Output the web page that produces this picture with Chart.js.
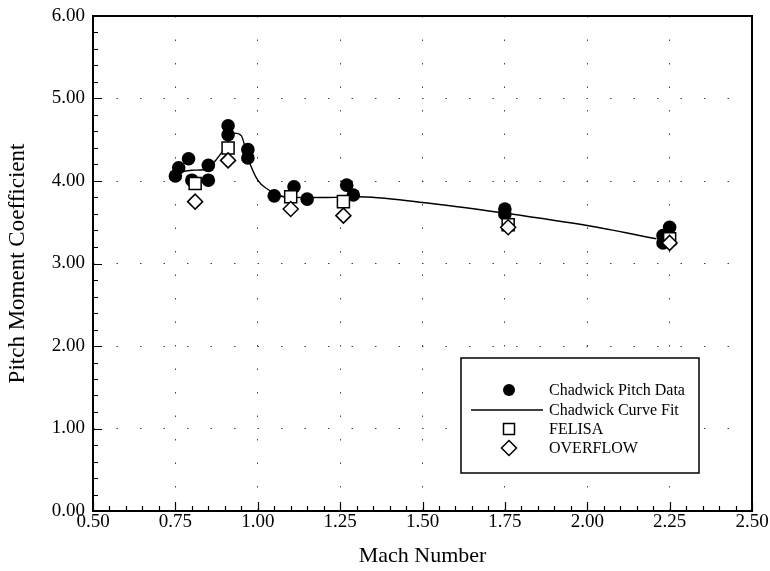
<!DOCTYPE html>
<html>
<head>
<meta charset="utf-8">
<script src="https://cdn.jsdelivr.net/npm/chart.js@4"></script>
<style>
  html, body { margin: 0; padding: 0; background: #fff; }
  #wrap { width: 770px; height: 571px; }
</style>
</head>
<body>
<div id="wrap"><canvas id="myChart" width="770" height="571"></canvas></div>
<script>
// Chadwick pitch data (filled circles)
var chadwickX = [0.75, 0.76, 0.79, 0.80, 0.85, 0.85, 0.91, 0.91, 0.97, 0.97, 1.05, 1.11, 1.15, 1.27, 1.29, 1.75, 1.75, 2.23, 2.23, 2.25];
var chadwickY = [4.06, 4.16, 4.27, 4.01, 4.01, 4.19, 4.67, 4.56, 4.38, 4.28, 3.82, 3.93, 3.78, 3.95, 3.83, 3.66, 3.60, 3.25, 3.34, 3.44];
// Chadwick curve fit
var fitX = [0.75, 0.80, 0.84, 0.87, 0.90, 0.93, 0.95, 0.97, 1.00, 1.03, 1.06, 1.10, 1.20, 1.30, 1.50, 1.75, 2.00, 2.21];
var fitY = [4.10, 4.13, 4.14, 4.24, 4.40, 4.58, 4.55, 4.28, 4.01, 3.90, 3.83, 3.80, 3.80, 3.81, 3.74, 3.61, 3.46, 3.30];
// FELISA (squares)
var felisaX = [0.81, 0.91, 1.10, 1.26, 1.76, 2.25];
var felisaY = [3.97, 4.40, 3.81, 3.75, 3.47, 3.30];
// OVERFLOW (diamonds)
var overflowX = [0.81, 0.91, 1.10, 1.26, 1.76, 2.25];
var overflowY = [3.75, 4.25, 3.66, 3.58, 3.44, 3.25];

var xTicks = [0.50, 0.75, 1.00, 1.25, 1.50, 1.75, 2.00, 2.25, 2.50];
var yTicks = [0, 1, 2, 3, 4, 5, 6];
var legendLabels = ['Chadwick Pitch Data', 'Chadwick Curve Fit', 'FELISA', 'OVERFLOW'];

function pts(xs, ys) {
    return xs.map(function (x, i) { return { x: x, y: ys[i] }; });
}

var serif = "'Liberation Serif', 'Times New Roman', serif";

// frame, inward ticks and the boxed legend
var framePlugin = {
    id: 'frame',
    afterDraw: function (chart) {
        var ctx = chart.ctx;
        var a = chart.chartArea;
        var xs = chart.scales.x, ys = chart.scales.y;
        ctx.save();
        ctx.strokeStyle = '#000';
        ctx.lineWidth = 2;
        ctx.strokeRect(a.left, a.top, a.right - a.left, a.bottom - a.top);

        ctx.lineWidth = 1.2;
        ctx.beginPath();
        for (var i = 0; i <= 40; i++) {
            var v = 0.5 + i * 0.05;
            var px = Math.round(xs.getPixelForValue(v)) + 0.5;
            var len = (i % 5 === 0) ? 9 : 5;
            ctx.moveTo(px, a.bottom);
            ctx.lineTo(px, a.bottom - len);
        }
        for (var j = 0; j <= 30; j++) {
            var yv = j * 0.2;
            var py = Math.round(ys.getPixelForValue(yv)) + 0.5;
            var ylen = (j % 5 === 0) ? 9 : 5;
            ctx.moveTo(a.left, py);
            ctx.lineTo(a.left + ylen, py);
        }
        ctx.stroke();

        // legend box
        var bx = a.right - 291, by = a.bottom - 153, bw = 238, bh = 115;
        ctx.fillStyle = '#fff';
        ctx.fillRect(bx, by, bw, bh);
        ctx.lineWidth = 1.5;
        ctx.strokeRect(bx, by, bw, bh);
        var rows = [by + 32, by + 52, by + 71, by + 90];
        var symX = bx + 48;
        ctx.font = '16px ' + serif;
        ctx.textBaseline = 'middle';
        ctx.textAlign = 'left';
        for (var k = 0; k < legendLabels.length; k++) {
            var ry = rows[k];
            ctx.lineWidth = 1.5;
            ctx.strokeStyle = '#000';
            if (k === 0) {
                ctx.fillStyle = '#000';
                ctx.beginPath();
                ctx.arc(symX, ry, 6, 0, Math.PI * 2);
                ctx.fill();
            } else if (k === 1) {
                ctx.lineWidth = 1.3;
                ctx.beginPath();
                ctx.moveTo(bx + 10, ry);
                ctx.lineTo(bx + 82, ry);
                ctx.stroke();
            } else if (k === 2) {
                ctx.fillStyle = '#fff';
                ctx.fillRect(symX - 5.5, ry - 5.5, 11, 11);
                ctx.strokeRect(symX - 5.5, ry - 5.5, 11, 11);
            } else {
                ctx.fillStyle = '#fff';
                ctx.beginPath();
                ctx.moveTo(symX, ry - 7.5);
                ctx.lineTo(symX + 7.5, ry);
                ctx.lineTo(symX, ry + 7.5);
                ctx.lineTo(symX - 7.5, ry);
                ctx.closePath();
                ctx.fill();
                ctx.stroke();
            }
            ctx.fillStyle = '#000';
            ctx.fillText(legendLabels[k], bx + 88, ry + 1);
        }
        ctx.restore();
    }
};

var ctx = document.getElementById('myChart').getContext('2d');
var myChart = new Chart(ctx, {
    type: 'scatter',
    data: {
        datasets: [
            {
                label: 'Chadwick Curve Fit',
                data: pts(fitX, fitY),
                showLine: true,
                borderColor: '#000',
                borderWidth: 1.4,
                pointRadius: 0,
                cubicInterpolationMode: 'monotone',
                order: 4
            },
            {
                label: 'Chadwick Pitch Data',
                data: pts(chadwickX, chadwickY),
                pointStyle: 'circle',
                pointRadius: 6.8,
                backgroundColor: '#000',
                borderColor: '#000',
                borderWidth: 0,
                order: 3
            },
            {
                label: 'FELISA',
                data: pts(felisaX, felisaY),
                pointStyle: 'rect',
                pointRadius: 8.5,
                backgroundColor: '#fff',
                borderColor: '#000',
                borderWidth: 1.5,
                order: 2
            },
            {
                label: 'OVERFLOW',
                data: pts(overflowX, overflowY),
                pointStyle: 'rectRot',
                pointRadius: 7.5,
                backgroundColor: '#fff',
                borderColor: '#000',
                borderWidth: 1.5,
                order: 1
            }
        ]
    },
    options: {
        animation: false,
        responsive: false,
        layout: { padding: { top: 16, right: 18, left: 0, bottom: 0 } },
        plugins: {
            legend: { display: false },
            tooltip: { enabled: false }
        },
        scales: {
            x: {
                type: 'linear',
                min: 0.5,
                max: 2.5,
                afterBuildTicks: function (scale) {
                    scale.ticks = xTicks.map(function (v) { return { value: v }; });
                },
                afterFit: function (scale) {
                    scale.height = 60;
                    scale.paddingLeft = 0;
                    scale.paddingRight = 0;
                },
                ticks: {
                    color: '#000',
                    padding: 0,
                    maxRotation: 0,
                    font: { family: serif, size: 19 },
                    callback: function (v) { return Number(v).toFixed(2); }
                },
                grid: {
                    color: '#444',
                    lineWidth: 1,
                    drawTicks: false
                },
                border: { display: false, dash: [1.5, 22] },
                title: {
                    display: true,
                    text: 'Mach Number',
                    color: '#000',
                    padding: { top: 0, bottom: 2 },
                    font: { family: serif, size: 22 }
                }
            },
            y: {
                type: 'linear',
                min: 0,
                max: 6,
                afterBuildTicks: function (scale) {
                    scale.ticks = yTicks.map(function (v) { return { value: v }; });
                },
                afterFit: function (scale) {
                    scale.width = 93;
                    scale.paddingTop = 0;
                    scale.paddingBottom = 0;
                },
                ticks: {
                    color: '#000',
                    padding: 8,
                    font: { family: serif, size: 19 },
                    callback: function (v) { return Number(v).toFixed(2); }
                },
                grid: {
                    color: '#444',
                    lineWidth: 1,
                    drawTicks: false
                },
                border: { display: false, dash: [1.5, 22] },
                title: {
                    display: true,
                    text: 'Pitch Moment Coefficient',
                    color: '#000',
                    padding: { top: 4, bottom: 0 },
                    font: { family: serif, size: 23 }
                }
            }
        }
    },
    plugins: [framePlugin]
});
</script>
</body>
</html>
